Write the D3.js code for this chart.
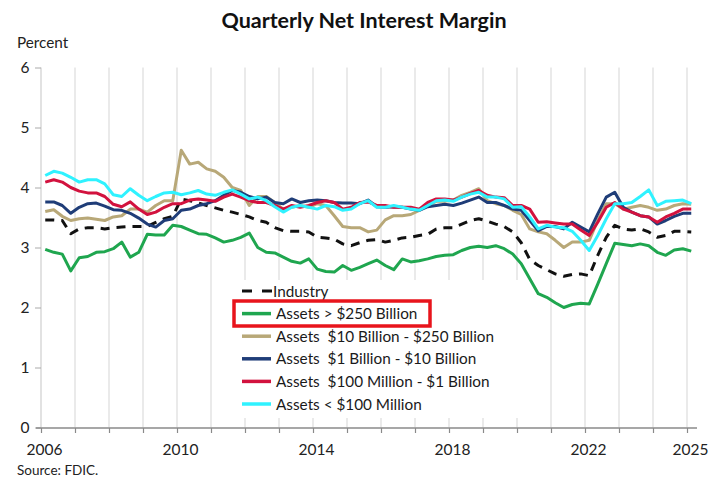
<!DOCTYPE html>
<html>
<head>
<meta charset="utf-8">
<script src="https://cdn.jsdelivr.net/npm/d3@7/dist/d3.min.js"></script>
<style>
  html, body { margin: 0; padding: 0; background: #fff; }
  svg { display: block; font-family: Lato, "Noto Sans", sans-serif; }
</style>
</head>
<body>
<svg id="chart" width="721" height="484"></svg>
<script>
// ---- Data (quarterly, 2006Q1 .. 2025Q1) ----
const startYear = 2006;
const quartersCount = 77;

const industry = [3.46,3.46,3.45,3.23,3.31,3.33,3.33,3.31,3.33,3.34,3.35,3.35,3.35,3.42,3.48,3.52,
  3.81,3.78,3.74,3.70,3.66,3.62,3.59,3.55,3.51,3.45,3.42,3.33,3.28,3.27,3.27,3.26,
  3.17,3.16,3.14,3.06,3.03,3.08,3.12,3.13,3.09,3.12,3.16,3.17,3.20,3.22,3.31,3.33,
  3.33,3.39,3.45,3.48,3.44,3.39,3.35,3.26,3.08,2.80,2.70,2.63,2.56,2.52,2.55,2.56,
  2.53,2.87,3.17,3.37,3.31,3.29,3.31,3.26,3.17,3.20,3.27,3.27,3.26];

const assetsOver250B = [2.97,2.92,2.89,2.61,2.83,2.85,2.92,2.93,2.98,3.09,2.84,2.92,3.22,3.21,3.21,3.37,
  3.35,3.29,3.23,3.22,3.16,3.09,3.12,3.17,3.24,3.00,2.92,2.91,2.84,2.77,2.74,2.81,
  2.64,2.60,2.59,2.70,2.62,2.67,2.73,2.79,2.70,2.63,2.81,2.76,2.78,2.81,2.85,2.87,
  2.88,2.95,3.00,3.02,3.00,3.03,2.98,2.89,2.73,2.48,2.23,2.17,2.08,2.00,2.05,2.07,
  2.06,2.39,2.73,3.07,3.05,3.03,3.06,3.03,2.92,2.87,2.96,2.98,2.94];

const assets10Bto250B = [3.60,3.63,3.52,3.45,3.48,3.49,3.47,3.45,3.51,3.53,3.64,3.64,3.59,3.70,3.78,3.78,
  4.62,4.39,4.42,4.31,4.27,4.17,4.00,3.95,3.70,3.85,3.85,3.75,3.64,3.67,3.70,3.67,
  3.73,3.70,3.53,3.35,3.33,3.33,3.26,3.29,3.46,3.53,3.53,3.55,3.62,3.70,3.77,3.77,
  3.79,3.87,3.92,3.98,3.78,3.73,3.70,3.62,3.55,3.31,3.26,3.23,3.12,3.00,3.09,3.09,
  3.12,3.45,3.73,3.73,3.64,3.67,3.70,3.67,3.62,3.64,3.70,3.73,3.72];

const assets1Bto10B = [3.76,3.76,3.70,3.57,3.67,3.73,3.74,3.69,3.63,3.62,3.57,3.49,3.39,3.34,3.45,3.48,
  3.62,3.64,3.70,3.73,3.78,3.87,3.95,3.92,3.85,3.81,3.84,3.75,3.73,3.81,3.75,3.78,
  3.79,3.78,3.75,3.74,3.74,3.73,3.79,3.68,3.67,3.68,3.67,3.64,3.62,3.68,3.70,3.72,
  3.70,3.74,3.79,3.84,3.75,3.75,3.70,3.64,3.62,3.45,3.28,3.35,3.35,3.31,3.42,3.34,
  3.26,3.56,3.84,3.92,3.67,3.59,3.53,3.51,3.39,3.45,3.52,3.57,3.57];

const assets100Mto1B = [4.09,4.13,4.09,4.00,3.94,3.91,3.91,3.85,3.72,3.68,3.76,3.64,3.55,3.59,3.67,3.73,
  3.73,3.79,3.81,3.79,3.77,3.84,3.89,3.84,3.78,3.75,3.75,3.70,3.64,3.70,3.67,3.70,
  3.75,3.78,3.75,3.64,3.67,3.75,3.76,3.70,3.70,3.67,3.67,3.67,3.64,3.75,3.81,3.81,
  3.79,3.84,3.90,3.95,3.87,3.84,3.83,3.70,3.70,3.64,3.42,3.43,3.41,3.39,3.39,3.29,
  3.20,3.42,3.67,3.75,3.64,3.59,3.53,3.51,3.42,3.51,3.57,3.64,3.64];

const assetsUnder100M = [4.20,4.27,4.24,4.17,4.09,4.13,4.13,4.06,3.88,3.85,3.98,3.87,3.78,3.85,3.91,3.92,
  3.88,3.91,3.95,3.89,3.87,3.92,3.96,3.89,3.81,3.84,3.78,3.68,3.59,3.67,3.70,3.67,
  3.64,3.70,3.68,3.62,3.64,3.73,3.78,3.67,3.67,3.70,3.67,3.64,3.62,3.70,3.78,3.79,
  3.77,3.84,3.89,3.92,3.84,3.84,3.81,3.67,3.68,3.51,3.31,3.37,3.34,3.33,3.27,3.12,
  2.95,3.20,3.48,3.73,3.73,3.75,3.85,3.96,3.70,3.77,3.78,3.79,3.73];

const seriesNames = ["Industry", "Assets > $250 Billion", "Assets  $10 Billion - $250 Billion",
  "Assets  $1 Billion - $10 Billion", "Assets  $100 Million - $1 Billion", "Assets < $100 Million"];
const seriesColors = ["#111111", "#1fa64f", "#b8a878", "#1f3d78", "#d2123e", "#2ff2ff"];
const seriesValues = [industry, assetsOver250B, assets10Bto250B, assets1Bto10B, assets100Mto1B, assetsUnder100M];

const yTicks = [0, 1, 2, 3, 4, 5, 6];
const xLabelYears = [2006, 2010, 2014, 2018, 2022, 2025];
const gridYears = d3.range(2007, 2026);
const tickYears = d3.range(2006, 2026);

// quarter position: mid-quarter
const qTime = d3.range(quartersCount).map(i => startYear + 0.125 + 0.25 * i);

// ---- Chart ----
const svg = d3.select("#chart");
const x = d3.scaleLinear().domain([2006, 2025.3]).range([41, 697.2]);
const y = d3.scaleLinear().domain([0, 6]).range([427.5, 67.5]);

// title
svg.append("text").attr("x", 364).attr("y", 28).attr("text-anchor", "middle")
  .attr("font-weight", 700).attr("font-size", 21.5).attr("fill", "#111")
  .text("Quarterly Net Interest Margin");

svg.append("text").attr("x", 17).attr("y", 48).attr("font-size", 15.3).attr("fill", "#222").text("Percent");

// vertical gridlines
svg.append("g").selectAll("line").data(gridYears).join("line")
  .attr("x1", d => x(d)).attr("x2", d => x(d))
  .attr("y1", y(6)).attr("y2", y(0))
  .attr("stroke", "#dcdcdc").attr("stroke-width", 1.2);

// y axis
const yAxis = svg.append("g").attr("transform", `translate(${x(2006)},0)`)
  .call(d3.axisLeft(y).tickValues(yTicks).tickSize(6).tickPadding(9).tickFormat(d3.format("d")));
yAxis.select(".domain").attr("stroke", "#cfcfcf").attr("stroke-width", 1.2).attr("d", `M0,${y(6)}V${y(0)}`);
yAxis.selectAll(".tick line").attr("stroke", "#aaa");
yAxis.selectAll(".tick text").attr("font-size", 15.5).attr("fill", "#222")
  .attr("font-family", "Lato, sans-serif").attr("x", -16).attr("text-anchor", "middle");

// x axis
const xAxis = svg.append("g").attr("transform", `translate(0,${y(0) + 0.5})`)
  .call(d3.axisBottom(x).tickValues(tickYears).tickSize(5).tickFormat(d => xLabelYears.includes(d) ? d : ""));
xAxis.select(".domain").attr("stroke", "#8a8a8a").attr("stroke-width", 1.3).attr("d", "M36,0H697");
xAxis.selectAll(".tick line").attr("stroke", "#8a8a8a").attr("stroke-width", 1.2);
xAxis.selectAll(".tick text").attr("font-size", 15.5).attr("fill", "#222")
  .attr("font-family", "Lato, sans-serif").attr("dy", "1.25em").attr("dx", 3);

// legend background (white box covers gridlines)
svg.append("rect").attr("x", 222).attr("y", 280).attr("width", 305).attr("height", 138).attr("fill", "#fff");

// lines
const line = d3.line().x((d, i) => x(qTime[i])).y(d => y(d));
svg.append("g").selectAll("path").data(seriesValues).join("path")
  .attr("d", d => line(d))
  .attr("fill", "none")
  .attr("stroke", (d, i) => seriesColors[i])
  .attr("stroke-width", 3)
  .attr("stroke-linejoin", "round")
  .attr("stroke-dasharray", (d, i) => i === 0 ? "9,7" : null);

// legend
const lg = svg.append("g");
const rowY = i => 291 + i * 22.6;
seriesNames.forEach((name, i) => {
  if (i === 0) {
    lg.append("line").attr("x1", 242).attr("x2", 252).attr("y1", rowY(i)).attr("y2", rowY(i))
      .attr("stroke", seriesColors[i]).attr("stroke-width", 3);
    lg.append("line").attr("x1", 262).attr("x2", 272).attr("y1", rowY(i)).attr("y2", rowY(i))
      .attr("stroke", seriesColors[i]).attr("stroke-width", 3);
  } else {
    lg.append("line").attr("x1", 242).attr("x2", 271).attr("y1", rowY(i)).attr("y2", rowY(i))
      .attr("stroke", seriesColors[i]).attr("stroke-width", 3.5);
  }
  lg.append("text").attr("x", i === 0 ? 273 : 276).attr("y", rowY(i) + 5.5)
    .attr("font-size", 15.3).attr("fill", "#1a1a1a")
    .attr("xml:space", "preserve").style("white-space", "pre")
    .text(name);
});

// red highlight box
svg.append("rect").attr("x", 234).attr("y", 301).attr("width", 196).attr("height", 25)
  .attr("fill", "none").attr("stroke", "#e8141c").attr("stroke-width", 3.5);

// source
svg.append("text").attr("x", 17).attr("y", 475).attr("font-size", 13.5).attr("fill", "#222").text("Source: FDIC.");
</script>
</body>
</html>
